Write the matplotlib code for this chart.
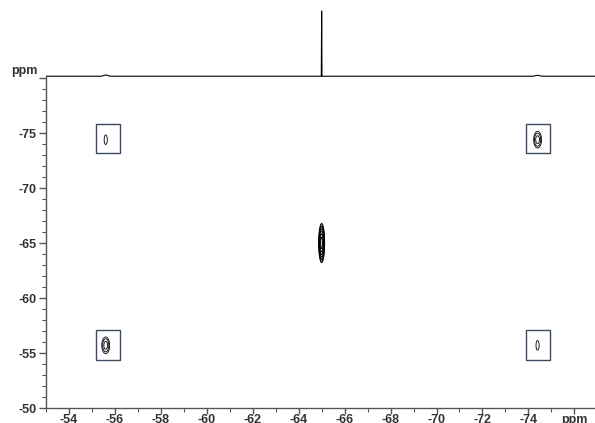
import numpy as np
import matplotlib
matplotlib.use("Agg")
import matplotlib.pyplot as plt
from matplotlib.patches import Rectangle
from matplotlib.ticker import MultipleLocator

# cross peaks: (F2 ppm, F1 ppm, height, sigma F2, sigma F1)
peak_x = [-55.6, -74.4, -55.6, -74.4, -65.0]
peak_y = [-74.4, -74.4, -55.7, -55.7, -65.0]
peak_h = [1.6, 6.0, 6.0, 1.6, 200.0]
peak_sx = [0.07, 0.09, 0.09, 0.07, 0.04]
peak_sy = [0.45, 0.40, 0.40, 0.45, 0.55]
levels = [1, 2, 4, 8, 16, 32, 64, 128]

# boxes drawn round the off-diagonal peaks (centre x, centre y)
box_x = [-55.7, -74.4, -55.7, -74.4]
box_y = [-74.5, -74.5, -55.7, -55.7]
box_w = 1.05
box_h = 2.7

# 1D projection on top
proj_ppm = [-53.0, -55.4, -55.6, -55.8, -64.985, -65.0, -65.015, -74.2, -74.4, -74.6, -76.9]
proj_int = [0.0, 0.0, 0.02, 0.0, 0.0, 1.0, 0.0, 0.0, 0.015, 0.0, 0.0]

xticks = [-54, -56, -58, -60, -62, -64, -66, -68, -70, -72, -74, -76]
xticklabels = ['-54', '-56', '-58', '-60', '-62', '-64', '-66', '-68', '-70', '-72', '-74', 'ppm']
yticks = [-50, -55, -60, -65, -70, -75, -80]
yticklabels = ['-50', '-55', '-60', '-65', '-70', '-75', '']

plt.rcParams['font.family'] = ['Liberation Sans', 'DejaVu Sans']

fig = plt.figure(figsize=(5.95, 4.23), dpi=100)
W, H = 595, 423
ax = fig.add_axes([46 / W, (H - 408) / H, (W - 46) / W, (408 - 77) / H])
ax1 = fig.add_axes([46 / W, (H - 77) / H, (W - 46) / W, 77 / H])

xg = np.arange(-52.5, -77.5, -0.01)
yg = np.arange(-49.5, -80.5, -0.02)
X, Y = np.meshgrid(xg, yg)
Z = np.zeros_like(X)
for px, py, ph, sx, sy in zip(peak_x, peak_y, peak_h, peak_sx, peak_sy):
    Z += ph * np.exp(-((X - px) ** 2) / (2 * sx ** 2) - ((Y - py) ** 2) / (2 * sy ** 2))
ax.contour(X, Y, Z, levels=levels, colors='k', linewidths=0.6)

for bx, by in zip(box_x, box_y):
    ax.add_patch(Rectangle((bx - box_w / 2, by - box_h / 2), box_w, box_h,
                           fill=False, edgecolor='#3d4b5c', lw=1.0))

ax.set_xlim(-53.0, -76.9)
ax.set_ylim(-50, -80.1)
ax.set_xticks(xticks)
ax.set_xticklabels(xticklabels)
ax.set_yticks(yticks)
ax.set_yticklabels(yticklabels)
ax.xaxis.set_minor_locator(MultipleLocator(1))
ax.yaxis.set_minor_locator(MultipleLocator(1))
ax.tick_params(which='major', length=5, width=1, color='#555555', pad=2,
               labelsize=9, labelcolor='#333333')
ax.tick_params(axis='x', which='major', length=4, pad=0)
ax.tick_params(which='minor', length=3, width=0.8, color='#555555')
for lab in ax.get_xticklabels() + ax.get_yticklabels():
    lab.set_fontweight('bold')
for s in ['top', 'right']:
    ax.spines[s].set_visible(False)
for s in ['left', 'bottom']:
    ax.spines[s].set_color('#555555')
    ax.spines[s].set_linewidth(1.0)
fig.text(24 / W, (H - 71) / H, 'ppm', fontsize=9, fontweight='bold',
         color='#333333', ha='center', va='center')

ax1.plot(proj_ppm, proj_int, color='k', lw=0.8)
ax1.set_xlim(-53.0, -76.9)
ax1.set_ylim(-0.012, 1.17)
ax1.axis('off')

fig.savefig('out.png', dpi=100)
